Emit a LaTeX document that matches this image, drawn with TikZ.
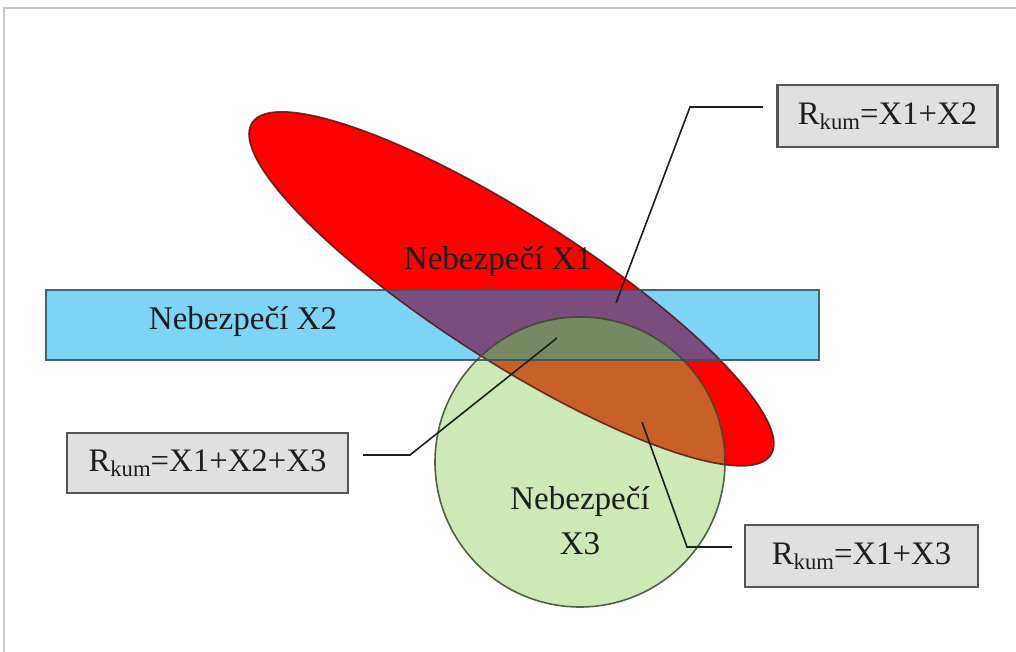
\documentclass[tikz,border=0pt]{standalone}
\usepackage{fontspec}
\setmainfont{Liberation Serif}
\definecolor{hazblue}{RGB}{126,212,245}
\definecolor{hazred}{RGB}{255,0,0}
\definecolor{hazgreen}{RGB}{205,233,181}
\definecolor{mixRB}{RGB}{123,76,126}
\definecolor{mixRG}{RGB}{201,96,40}
\definecolor{mixRBG}{RGB}{117,137,99}
\definecolor{boxgray}{RGB}{224,224,224}
\definecolor{edgegray}{RGB}{85,85,85}
\definecolor{inkgray}{RGB}{30,30,30}
\definecolor{framegray}{RGB}{200,200,200}
\newcommand{\Rkum}{R\raisebox{-4pt}{\fontsize{17}{18}\selectfont kum}}
\begin{document}
\begin{tikzpicture}[x=0.75pt,y=-0.75pt,
  ell/.style={rotate around={-32.6:(512,288)}},
  hazlabel/.style={text=inkgray,font=\fontsize{24.8}{33.75}\selectfont,inner sep=0pt},
  riskbox/.style={draw=edgegray,line width=1.6pt,fill=boxgray,text=inkgray,
    font=\fontsize{24.6}{28}\selectfont,inner sep=0pt},
  leader/.style={draw=inkgray,line width=1.2pt}]
\useasboundingbox (0,0) rectangle (1016,652);
% page frame
\draw[framegray,line width=1pt] (4,652) -- (4,8) -- (1016,8);

% base fills
\fill[hazblue] (46,290) rectangle (819,360);
\fill[hazred,ell] (512,289) ellipse [x radius=308,y radius=73];
\fill[hazgreen] (580,462) circle [radius=145];

% overlaps
\begin{scope}
  \clip[ell] (512,289) ellipse [x radius=308,y radius=73];
  \fill[mixRB] (46,290) rectangle (819,360);
  \fill[mixRG] (580,462) circle [radius=145];
  \clip (46,290) rectangle (819,360);
  \fill[mixRBG] (580,462) circle [radius=145];
\end{scope}

% outlines
\draw[ell,draw={rgb,255:red,80;green,25;blue,25},line width=1.2pt,opacity=0.85]
  (512,289) ellipse [x radius=308,y radius=73];
\draw[draw={rgb,255:red,55;green,85;blue,95},line width=1.6pt,opacity=0.9]
  (46,290) rectangle (819,360);
\draw[draw={rgb,255:red,55;green,70;blue,45},line width=1.2pt,opacity=0.85]
  (580,462) circle [radius=145];

% hazard labels
\node[hazlabel] (x1) at (498,262) {Nebezpečí X1};
\node[hazlabel] (x2) at (243,322) {Nebezpečí X2};
\node[hazlabel,align=center] (x3) at (580,521) {Nebezpečí\\X3};

% cumulative risk boxes
\node[riskbox,minimum width=165pt,minimum height=46.5pt] (r12) at (887.5,116) {\Rkum=X1+X2};
\node[riskbox,minimum width=210.75pt,minimum height=45pt] (r123) at (207.5,463) {\Rkum=X1+X2+X3};
\node[riskbox,minimum width=174.75pt,minimum height=46.5pt] (r13) at (861.5,556) {\Rkum=X1+X3};

% leader lines
\coordinate (a1) at (763,107);
\coordinate (b1) at (690,107);
\coordinate (e1) at (616,303);
\coordinate (a2) at (363,455);
\coordinate (b2) at (410,455);
\coordinate (e2) at (557,338);
\coordinate (a3) at (732,547);
\coordinate (b3) at (687,547);
\coordinate (e3) at (642,422);
\draw[leader] (a1) -- (b1) -- (e1);
\draw[leader] (a2) -- (b2) -- (e2);
\draw[leader] (a3) -- (b3) -- (e3);
\end{tikzpicture}
\end{document}
